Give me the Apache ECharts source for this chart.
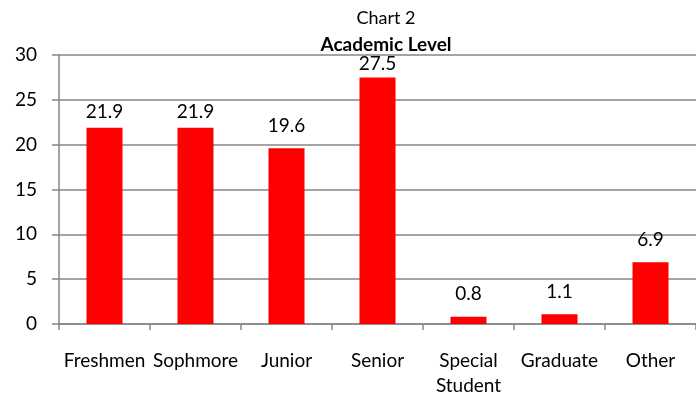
<!DOCTYPE html>
<html>
<head>
<meta charset="utf-8">
<script src="https://cdn.jsdelivr.net/npm/echarts@6/dist/echarts.min.js"></script>
<style>
html, body { margin: 0; padding: 0; background: #fff; }
#chart { width: 696px; height: 398px; }
</style>
</head>
<body>
<div id="chart"></div>
<script>
var categories = ['Freshmen', 'Sophmore', 'Junior', 'Senior', 'Special\nStudent', 'Graduate', 'Other'];
var values = [21.9, 21.9, 19.6, 27.5, 0.8, 1.1, 6.9];
var yTicks = [0, 5, 10, 15, 20, 25, 30];

var font = 'Lato, "Open Sans", sans-serif';
// labels that Excel squeezed closer to the bar top
var labelGap = { 0: 6, 1: 6, 3: 4 };

var barData = values.map(function(v, i) {
	return {
		value: v,
		label: { distance: labelGap[i] !== undefined ? labelGap[i] : 13 }
	};
});

var myChart = echarts.init(document.getElementById('chart'));
var option = {
	animation: false,
	title: [{
		text: 'Chart 2',
		left: 381, top: 4, textAlign: 'center',
		textStyle: { fontFamily: font, fontSize: 18, fontWeight: 'normal', color: '#000' }
	}, {
		text: 'Academic Level',
		left: 381, top: 30, textAlign: 'center',
		textStyle: { fontFamily: font, fontSize: 19, fontWeight: 'bold', color: '#000' }
	}],
	grid: { left: 59, top: 55, width: 644, height: 271 },
	xAxis: {
		type: 'category',
		data: categories,
		axisLine: { lineStyle: { color: '#868686', width: 1.5 } },
		axisTick: { show: true, length: 6, lineStyle: { color: '#868686', width: 1.5 } },
		axisLabel: { fontFamily: font, fontSize: 19, color: '#000', margin: 24, lineHeight: 25, interval: 0 }
	},
	yAxis: {
		type: 'value',
		min: yTicks[0], max: yTicks[yTicks.length - 1], interval: 5,
		axisLine: { show: true, lineStyle: { color: '#868686', width: 1.5 } },
		axisTick: { show: true, length: 7, lineStyle: { color: '#868686', width: 1.5 } },
		splitLine: { lineStyle: { color: '#868686', width: 1.5 } },
		axisLabel: { fontFamily: font, fontSize: 19, color: '#000', margin: 22 }
	},
	series: [{
		type: 'bar',
		data: barData,
		barWidth: 36,
		itemStyle: { color: '#ff0000' },
		label: {
			show: true, position: 'top',
			fontFamily: font, fontSize: 19, color: '#000'
		}
	}]
};
myChart.setOption(option);
</script>
</body>
</html>
